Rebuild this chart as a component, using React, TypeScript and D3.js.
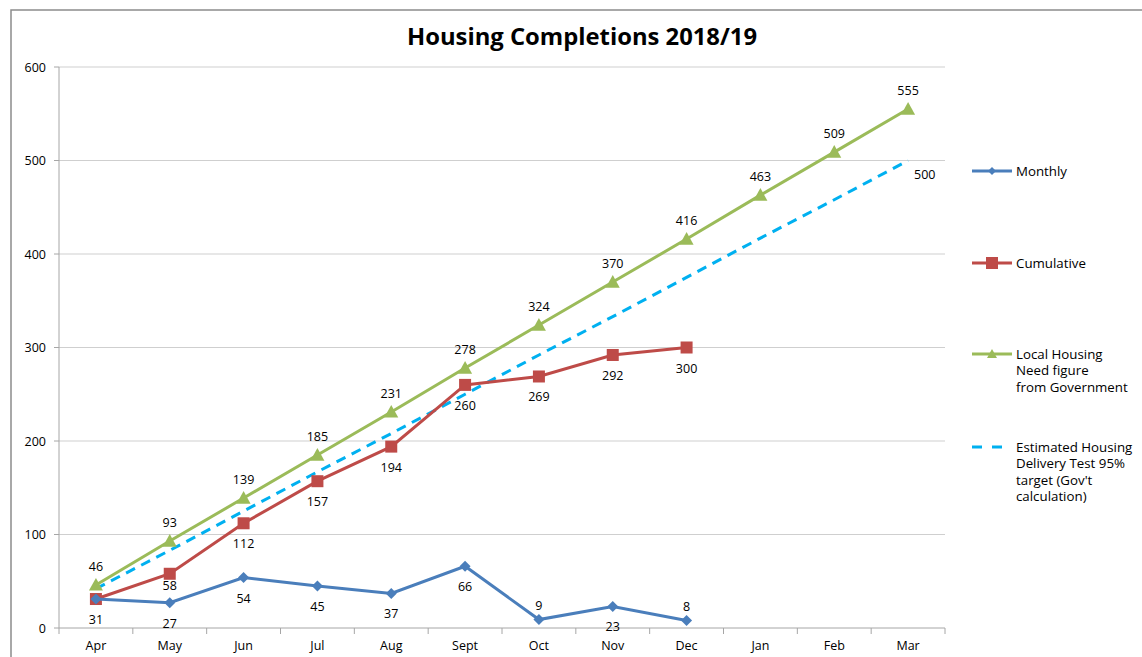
import React from "react";
import * as d3 from "d3";

const months = ["Apr", "May", "Jun", "Jul", "Aug", "Sept", "Oct", "Nov", "Dec", "Jan", "Feb", "Mar"];
const monthly = [31, 27, 54, 45, 37, 66, 9, 23, 8];
const cumulative = [31, 58, 112, 157, 194, 260, 269, 292, 300];
const localNeed = [46, 93, 139, 185, 231, 278, 324, 370, 416, 463, 509, 555];
const hdtTarget = [42, 83, 125, 167, 208, 250, 292, 333, 375, 417, 458, 500];
const yTicks = [0, 100, 200, 300, 400, 500, 600];

const W = 1142, H = 657;
const L = 59, R = 945, T = 67, B = 628;
const FONT = "'Open Sans', Lato, sans-serif";

const BLUE = "#4a7ebb";
const RED = "#be4b48";
const GREEN = "#9bbb59";
const CYAN = "#00b0f0";

export default function App() {
  const x = d3.scaleBand<string>().domain(months).range([L, R]).padding(0);
  const cx = (i: number) => (x(months[i]) as number) + x.bandwidth() / 2;
  const y = d3.scaleLinear().domain([0, 600]).range([B, T]);

  const line = d3
    .line<number>()
    .x((_, i) => cx(i))
    .y((d) => y(d));

  const diamond = (px: number, py: number, s = 5.5) =>
    `M${px},${py - s}L${px + s},${py}L${px},${py + s}L${px - s},${py}Z`;
  const tri = (px: number, py: number, s = 7) =>
    `M${px},${py - s}L${px + s},${py + s * 0.8}L${px - s},${py + s * 0.8}Z`;

  const monthlyLabelAbove = (i: number) => monthly[i] < 15;

  return (
    <svg width={W} height={H} style={{ position: "absolute", left: 0, top: 0, background: "#fff" }} fontFamily={FONT}>
      <rect x={11} y={10} width={W + 10} height={H + 10} fill="#fff" stroke="#8c8c8c" strokeWidth={1.5} />
      <text x={582} y={45} textAnchor="middle" fontSize={23.8} fontWeight="bold" fill="#000">
        Housing Completions 2018/19
      </text>

      {/* gridlines */}
      {yTicks.map((t) => (
        <g key={t}>
          {t > 0 && <line x1={L} x2={R} y1={y(t)} y2={y(t)} stroke="#cfcfcf" strokeWidth={1} />}
          <line x1={L - 5} x2={L} y1={y(t)} y2={y(t)} stroke="#a6a6a6" />
          <text x={L - 13} y={y(t) + 4.5} textAnchor="end" fontSize={12.5} fill="#000">
            {t}
          </text>
        </g>
      ))}
      <line x1={L} x2={L} y1={T} y2={B} stroke="#a6a6a6" />
      <line x1={L} x2={R} y1={B} y2={B} stroke="#a6a6a6" />
      {months.map((m, i) => (
        <g key={m}>
          <line x1={x(m) as number} x2={x(m) as number} y1={B} y2={B + 6} stroke="#a6a6a6" />
          <text x={cx(i)} y={B + 22} textAnchor="middle" fontSize={12.5} fill="#000">
            {m}
          </text>
        </g>
      ))}
      <line x1={R} x2={R} y1={B} y2={B + 6} stroke="#a6a6a6" />

      {/* dashed target */}
      <path d={line(hdtTarget) || ""} fill="none" stroke={CYAN} strokeWidth={3} strokeDasharray="10,7" />
      <text x={cx(11) + 6} y={y(500) + 18} fontSize={12.5} fill="#000">500</text>

      {/* local need */}
      <path d={line(localNeed) || ""} fill="none" stroke={GREEN} strokeWidth={3} />
      {localNeed.map((v, i) => (
        <g key={i}>
          <path d={tri(cx(i), y(v))} fill={GREEN} />
          <text x={cx(i)} y={y(v) - 14} textAnchor="middle" fontSize={12.5} fill="#000">{v}</text>
        </g>
      ))}

      {/* cumulative */}
      <path d={line(cumulative) || ""} fill="none" stroke={RED} strokeWidth={3} />
      {cumulative.map((v, i) => (
        <g key={i}>
          <rect x={cx(i) - 6} y={y(v) - 6} width={12} height={12} fill={RED} />
          {i > 0 && (
            <text x={cx(i)} y={y(v) + (i === 1 ? 16 : 25)} textAnchor="middle" fontSize={12.5} fill="#000">{v}</text>
          )}
        </g>
      ))}

      {/* monthly */}
      <path d={line(monthly) || ""} fill="none" stroke={BLUE} strokeWidth={3} />
      {monthly.map((v, i) => (
        <g key={i}>
          <path d={diamond(cx(i), y(v))} fill={BLUE} />
          <text
            x={cx(i)}
            y={monthlyLabelAbove(i) ? y(v) - 10 : y(v) + 25}
            textAnchor="middle"
            fontSize={12.5}
            fill="#000"
          >
            {v}
          </text>
        </g>
      ))}

      {/* legend */}
      <g fontSize={13.3} fill="#000">
        <line x1={972} x2={1012} y1={171} y2={171} stroke={BLUE} strokeWidth={3} />
        <path d={diamond(992, 171, 4)} fill={BLUE} />
        <text x={1016} y={175.5}>Monthly</text>

        <line x1={972} x2={1012} y1={263} y2={263} stroke={RED} strokeWidth={3} />
        <rect x={986} y={257} width={12} height={12} fill={RED} />
        <text x={1016} y={267.5}>Cumulative</text>

        <line x1={972} x2={1012} y1={354} y2={354} stroke={GREEN} strokeWidth={3} />
        <path d={tri(992, 354, 5)} fill={GREEN} />
        <text x={1016} y={358.5}>Local Housing</text>
        <text x={1016} y={375}>Need figure</text>
        <text x={1016} y={391.5}>from Government</text>

        <line x1={972} x2={1012} y1={447} y2={447} stroke={CYAN} strokeWidth={3} strokeDasharray="10,10" />
        <text x={1016} y={451.5}>Estimated Housing</text>
        <text x={1016} y={468}>Delivery Test 95%</text>
        <text x={1016} y={484.5}>target (Gov't</text>
        <text x={1016} y={501}>calculation)</text>
      </g>
    </svg>
  );
}
